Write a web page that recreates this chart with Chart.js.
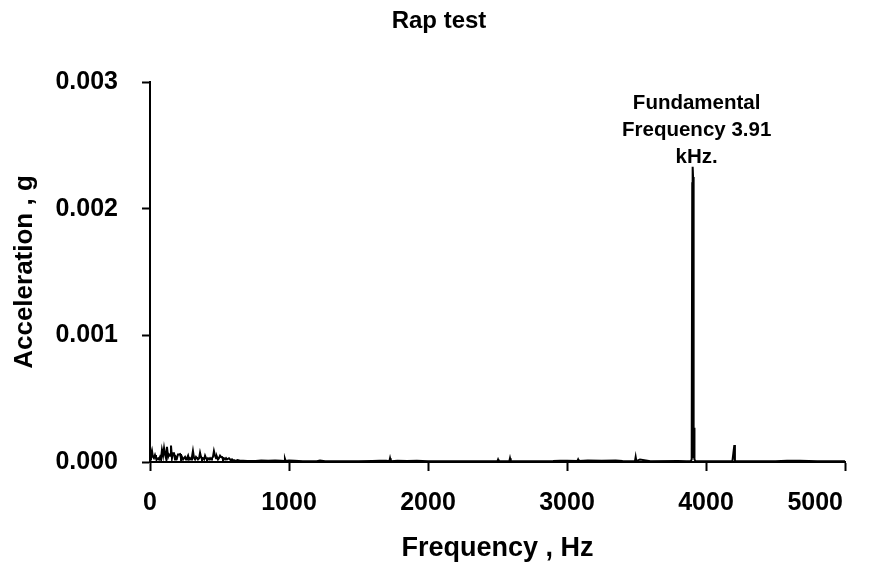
<!DOCTYPE html>
<html>
<head>
<meta charset="utf-8">
<script src="https://cdn.jsdelivr.net/npm/chart.js@4"></script>
<style>
  html, body { margin: 0; padding: 0; background: #fff; }
  #wrap { width: 870px; height: 568px; position: relative; }
</style>
</head>
<body>
<div id="wrap"><canvas id="c" width="870" height="568"></canvas></div>
<script>
// ---- Data ----
const TITLE = "Rap test";
const X_TITLE = "Frequency , Hz";
const Y_TITLE = "Acceleration , g";
const X_TICKS = [0, 1000, 2000, 3000, 4000, 5000];
const Y_TICKS = [0, 0.001, 0.002, 0.003];
const ANNOTATION = ["Fundamental", "Frequency 3.91", "kHz."];
const PEAK_FREQ = 3904;
const PEAK_VALUE = 0.00233;

// Low-frequency noise band (0 - 700 Hz)
const lowFreqHz = [
  0, 7, 14, 21, 28, 36, 43, 50, 58, 65, 72, 79, 86, 94, 101, 108, 115, 122, 130, 137,
  144, 151, 158, 165, 173, 180, 187, 194, 201, 209, 216, 223, 230, 238, 245, 252, 259, 266, 274, 281,
  288, 295, 302, 309, 317, 324, 331, 338, 345, 353, 360, 367, 374, 381, 389, 396, 403, 410, 417, 425,
  432, 439, 446, 453, 460, 468, 475, 482, 489, 496, 504, 511, 518, 525, 532, 540, 547, 554, 561, 568,
  576, 583, 590, 597, 604, 612, 620, 630, 647, 670, 700
];
const lowFreqG = [
  0.00002, 0.00006, 0.00009, 0.00004, 0.00003, 0.000055, 0.00003, 0.00002, 0.00003, 0.00002,
  0.00004, 0.00002, 0.000095, 0.00005, 0.00011, 0.00006, 0.00003, 0.00012, 0.00004, 0.00006,
  0.00005, 0.00013, 0.00003, 0.00007, 0.00007, 0.00002, 0.00004, 0.00003, 0.00006, 0.00006,
  0.000063, 0.00003, 0.00004, 0.00002, 0.00003, 0.00004, 0.00002, 0.00003, 0.00005, 0.00002,
  0.00003, 0.00002, 0.00004, 0.000087, 0.00003, 0.00002, 0.00004, 0.00003, 0.00002, 0.00003,
  0.000073, 0.00004, 0.00002, 0.00003, 0.00002, 0.00005, 0.00003, 0.00002, 0.00003, 0.00002,
  0.00003, 0.00002, 0.00003, 0.00004, 0.000087, 0.00005, 0.00003, 0.00004, 0.00002, 0.00003,
  0.00005, 0.00004, 0.00004, 0.00002, 0.00003, 0.00002, 0.00003, 0.00002, 0.00002, 0.00003,
  0.00002, 0.00001, 0.00002, 0.00001, 0.000015, 0.00001, 0.00001, 0.000015, 0.00001, 0.00001, 0.000008
];

// Rest of the spectrum (700 - 5000 Hz), including the fundamental peak
const highFreqHz = [
  760, 800, 850, 900, 940, 966, 971, 976, 1000, 1040, 1100, 1200, 1223, 1260, 1400, 1500, 1600, 1650, 1700, 1722,
  1727, 1732, 1780, 1850, 1920, 2000, 2200, 2400, 2499, 2504, 2509, 2585, 2590, 2595, 2700, 2900, 2950, 3000,
  3075, 3080, 3085, 3150, 3250, 3350, 3400, 3489, 3494, 3499, 3525, 3600, 3799, 3860, 3890, 3897, 3901, 3904,
  3907, 3911, 3914, 3917, 3925, 4000, 4100, 4190, 4198, 4204, 4208, 4300, 4500, 4583, 4676, 4800, 5000
];
const highFreqG = [
  0.000008, 0.000012, 0.00001, 0.000012, 0.00001, 0.000008, 0.000025, 0.000008, 0.000012, 0.00001,
  0.000006, 0.000006, 0.000012, 0.000006, 0.000006, 0.000006, 0.000008, 0.00001, 0.00001, 0.000006,
  0.00003, 0.000006, 0.00001, 0.000008, 0.00001, 0.000006, 0.000006, 0.000006, 0.000006, 0.00002,
  0.000006, 0.000006, 0.00003, 0.000006, 0.000006, 0.000008, 0.00001, 0.00001, 0.000008, 0.00002,
  0.000008, 0.000012, 0.00001, 0.000012, 0.000008, 0.000006, 0.00004, 0.000006, 0.00002, 0.000006,
  0.000008, 0.000006, 0.000006, 0.00002, 0.0022, 0.00233, 0.00225, 0.00003, 0.00027, 0.00002,
  0.000006, 0.000006, 0.000006, 0.000006, 0.00008, 0.000134, 0.000006, 0.000006, 0.000006, 0.00001,
  0.00001, 0.000006, 0.000006
];

const frequencyHz = lowFreqHz.concat(highFreqHz);
const accelerationG = lowFreqG.concat(highFreqG);

const FONT = "'Liberation Sans', Arial, sans-serif";

const points = frequencyHz.map((f, i) => ({ x: f, y: accelerationG[i] }));

const textPlugin = {
  id: 'extraText',
  beforeDraw(chart) {
    // right-align the last x tick label like the reference
    const xs = chart.scales.x;
    const items = xs.getLabelItems();
    const last = items[items.length - 1];
    if (last && !last._moved) {
      last.options.textAlign = 'right';
      last.options.translation = [xs.right - 2, last.options.translation[1]];
      last._moved = true;
    }
  },
  afterDatasetsDraw(chart) {
    const { ctx, scales: { x, y } } = chart;
    ctx.save();
    ctx.fillStyle = '#000';
    ctx.textAlign = 'center';
    ctx.textBaseline = 'middle';
    // title
    ctx.font = "bold 24px " + FONT;
    ctx.fillText(TITLE, 439, 21);
    // peak annotation
    const cx = x.getPixelForValue(PEAK_FREQ) + 4;
    const py = y.getPixelForValue(PEAK_VALUE);
    ctx.font = "bold 20.5px " + FONT;
    const offsets = [-64, -37, -10];
    ANNOTATION.forEach((t, i) => ctx.fillText(t, cx, py + offsets[i]));
    ctx.restore();
  }
};

new Chart(document.getElementById('c'), {
  type: 'line',
  data: {
    datasets: [{
      data: points,
      borderColor: '#000',
      backgroundColor: '#000',
      borderWidth: 2,
      pointRadius: 0,
      tension: 0
    }]
  },
  options: {
    responsive: false,
    animation: false,
    layout: { padding: { left: 0, right: 25, top: 82, bottom: 0 } },
    plugins: {
      legend: { display: false },
      tooltip: { enabled: false },
      title: { display: false }
    },
    scales: {
      x: {
        type: 'linear',
        min: 0, max: 5000,
        afterBuildTicks: (s) => { s.ticks = X_TICKS.map(v => ({ value: v })); },
        afterFit: (s) => { s.height = 106; s.paddingLeft = 0; s.paddingRight = 0; },
        border: { display: true, color: '#000', width: 2 },
        grid: { drawOnChartArea: false, drawTicks: true, tickLength: 9, tickColor: '#000', tickWidth: 2, color: '#000' },
        ticks: {
          color: '#000', padding: 17, maxRotation: 0,
          font: { family: FONT, size: 25, weight: 'bold' },
          callback: (v) => String(v)
        },
        title: {
          display: true, text: X_TITLE, color: '#000',
          font: { family: FONT, size: 27, weight: 'bold', lineHeight: 1.2 },
          padding: { top: 0, bottom: 3 }
        }
      },
      y: {
        type: 'linear',
        min: 0, max: 0.003,
        afterBuildTicks: (s) => { s.ticks = Y_TICKS.map(v => ({ value: v })); },
        afterFit: (s) => { s.width = 150; s.paddingTop = 0; s.paddingBottom = 0; },
        border: { display: true, color: '#000', width: 2 },
        grid: { drawOnChartArea: false, drawTicks: true, tickLength: 8, tickColor: '#000', tickWidth: 2, color: '#000' },
        ticks: {
          color: '#000', padding: 24,
          font: { family: FONT, size: 25, weight: 'bold' },
          callback: (v) => Number(v).toFixed(3)
        },
        title: {
          display: true, text: Y_TITLE, color: '#000',
          font: { family: FONT, size: 26, weight: 'bold', lineHeight: 1.2 },
          padding: { top: 9, bottom: 0 }
        }
      }
    }
  },
  plugins: [textPlugin]
});
</script>
</body>
</html>
